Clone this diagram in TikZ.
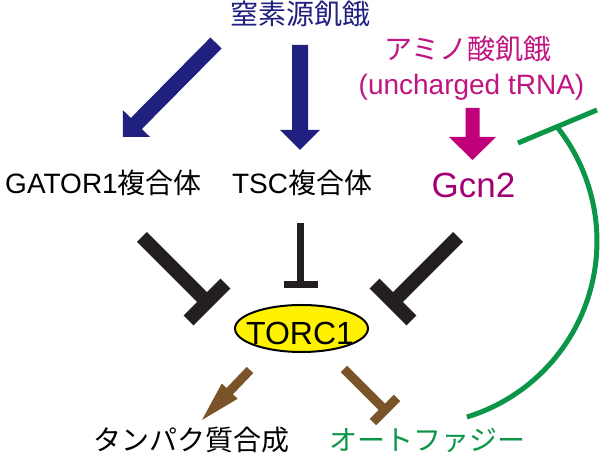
\documentclass[tikz,border=0pt]{standalone}
\usepackage{fontspec}
\setmainfont{Liberation Sans}
\newfontfamily\cjk{Noto Sans CJK JP}
\usetikzlibrary{calc,shapes.geometric}
\definecolor{navyA}{RGB}{32,32,128}
\definecolor{pinkA}{RGB}{192,0,122}
\definecolor{pinkT}{RGB}{192,20,128}
\definecolor{gcnC}{RGB}{162,0,116}
\definecolor{blackA}{RGB}{35,31,32}
\definecolor{brownA}{RGB}{122,84,40}
\definecolor{greenA}{RGB}{10,150,70}
\definecolor{yellowA}{RGB}{255,242,0}
\newcommand\fatarrow[6]{%
  \coordinate (hb) at ($(#2)!#5!(#1)$);
  \fill[#6] ($(#1)!#3!90:(#2)$) -- ($(hb)!#3!90:(#2)$) -- ($(hb)!#4!90:(#2)$)
    -- (#2) -- ($(hb)!#4!-90:(#2)$) -- ($(hb)!#3!-90:(#2)$) -- ($(#1)!#3!-90:(#2)$) -- cycle;}
\newcommand\inhib[5]{%
  \draw[line width=#4,#5] (#1) -- (#2);
  \draw[line width=#4,#5] ($(#2)!#3!90:(#1)$) -- ($(#2)!#3!-90:(#1)$);}
\tikzset{
  lbl/.style={inner sep=0pt,anchor=base,font=\fontsize{28}{30}\selectfont},
  torcshape/.style={ellipse,draw=black,line width=2pt,fill=yellowA,minimum width=133pt,minimum height=47pt,inner sep=0pt},
  navyfill/.style={fill=navyA},
  pinkfill/.style={fill=pinkA},
  brownfill/.style={fill=brownA},
  blackinh/.style={draw=blackA},
  browninh/.style={draw=brownA},
  greeninh/.style={draw=greenA,line width=5pt}
}
\begin{document}
\begin{tikzpicture}[x=1pt,y=1pt]
\useasboundingbox[fill=white] (0,0) rectangle (600,457);
% texts
\node[lbl,text=navyA] (nstarv) at (300,432) {\cjk 窒素源飢餓};
\node[lbl,text=pinkT] (astarv) at (468,397) {\cjk アミノ酸飢餓};
\node[lbl,text=pinkT] (trna) at (471.5,362) {(uncharged tRNA)};
\node[lbl,text=gcnC,font=\fontsize{35}{38}\selectfont] (gcn) at (473.5,259) {Gcn2};
\node[lbl] (gator) at (103.5,263) {GATOR1{\cjk 複合体}};
\node[lbl] (tsc) at (302,263) {TSC{\cjk 複合体}};
\node[torcshape] (torc) at (301.5,128.5) {};
\node[lbl,font=\fontsize{32}{34}\selectfont] (torcT) at (300,112) {TORC1};
\node[lbl] (prot) at (191,6) {\cjk タンパク質合成};
\node[lbl,text=greenA] (auto) at (427.5,6) {\cjk オートファジー};
% connector end points
\coordinate (b1s) at (216,414); \coordinate (b1e) at (123,320);
\coordinate (b2s) at (300,412); \coordinate (b2e) at (300,307);
\coordinate (p1s) at (472.5,349); \coordinate (p1e) at (472.5,297);
\coordinate (br1s) at (250,87); \coordinate (br1e) at (202,37);
\coordinate (k1s) at (142,220); \coordinate (k1e) at (207,155);
\coordinate (k2s) at (300.5,234); \coordinate (k2e) at (300.5,172.3);
\coordinate (k3s) at (458,220); \coordinate (k3e) at (393,155);
\coordinate (br2s) at (344,88); \coordinate (br2e) at (385,47);
\coordinate (gS) at (466.9,40);
\coordinate (gB1) at (518,314); \coordinate (gB2) at (597,347);
% arrows
\fatarrow{b1s}{b1e}{7.8pt}{19pt}{19pt}{navyfill}
\fatarrow{b2s}{b2e}{8pt}{20pt}{20pt}{navyfill}
\fatarrow{p1s}{p1e}{7pt}{23.5pt}{23pt}{pinkfill}
\fatarrow{br1s}{br1e}{4.5pt}{11pt}{40pt}{brownfill}
% inhibitions
\inhib{k1s}{k1e}{26pt}{14pt}{blackinh}
\inhib{k2s}{k2e}{17pt}{7.3pt}{blackinh}
\inhib{k3s}{k3e}{26pt}{14pt}{blackinh}
\inhib{br2s}{br2e}{17pt}{9pt}{browninh}
\draw[greeninh] (gS) arc[start angle=-73,end angle=38,radius=183.8pt] coordinate (gE);
\draw[greeninh] (gB1) -- (gB2);
\end{tikzpicture}
\end{document}
